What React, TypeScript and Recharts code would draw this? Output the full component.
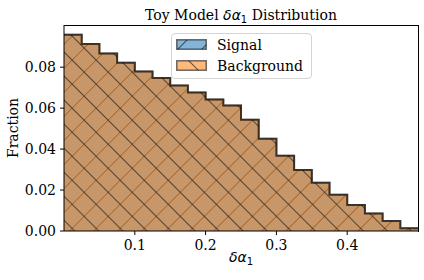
import React from 'react';
import { ComposedChart, Area, XAxis, YAxis } from 'recharts';

// bin edges of the histogram (20 bins of width 0.025)
const BIN_EDGES = [0, 0.025, 0.05, 0.075, 0.1, 0.125, 0.15, 0.175, 0.2, 0.225, 0.25, 0.275, 0.3, 0.325, 0.35, 0.375, 0.4, 0.425, 0.45, 0.475, 0.5];

const SIGNAL = [0.0958, 0.0913, 0.0867, 0.0822, 0.0779, 0.0747, 0.0711, 0.0676, 0.0642, 0.0613, 0.0543, 0.045, 0.0367, 0.0298, 0.0236, 0.0177, 0.0127, 0.0085, 0.0049, 0.0014];
const BACKGROUND = [0.0958, 0.0913, 0.0867, 0.0822, 0.0779, 0.0747, 0.0711, 0.0676, 0.0642, 0.0613, 0.0543, 0.045, 0.0367, 0.0298, 0.0236, 0.0177, 0.0127, 0.0085, 0.0049, 0.0014];

const X_TICKS = [0.1, 0.2, 0.3, 0.4];
const Y_TICKS = [0, 0.02, 0.04, 0.06, 0.08];

const BLUE = '#1f77b4';
const ORANGE = '#ff7f0e';
const ALPHA = 0.55;
const HATCH = 17;
const SERIF = "'DejaVu Serif', serif";
const MATH = "'DejaVu Sans', sans-serif";

// stepAfter needs the closing edge, so the last bin value is repeated at x = 0.5
const data = BIN_EDGES.map((x, i) => ({
  x,
  signal: SIGNAL[Math.min(i, SIGNAL.length - 1)],
  background: BACKGROUND[Math.min(i, BACKGROUND.length - 1)],
}));

const HatchPattern = ({ id, color, angle }: { id: string; color: string; angle: number }) => (
  <pattern id={id} patternUnits="userSpaceOnUse" width={HATCH} height={HATCH} patternTransform={`rotate(${angle})`}>
    <rect width={HATCH} height={HATCH} fill={color} fillOpacity={ALPHA} />
    <line x1={HATCH / 2} y1={0} x2={HATCH / 2} y2={HATCH} stroke="#000" strokeOpacity={ALPHA} strokeWidth={1} />
  </pattern>
);

const LegendPatch = ({ id, color, angle }: { id: string; color: string; angle: number }) => (
  <svg width={31} height={11} style={{ display: 'block' }}>
    <defs>
      <HatchPattern id={id} color={color} angle={angle} />
    </defs>
    <rect x={0.75} y={0.75} width={29.5} height={9.5} fill={`url(#${id})`} stroke="#000" strokeOpacity={ALPHA} strokeWidth={1.5} />
  </svg>
);

const XTick = (props: any) => {
  const { x, y, payload } = props;
  return (
    <text x={x} y={y} dy="0.71em" textAnchor="middle" fontFamily={SERIF} fontSize={14} fill="#000">
      {Number(payload.value).toFixed(1)}
    </text>
  );
};

const YTick = (props: any) => {
  const { x, y, payload } = props;
  return (
    <text x={x} y={y} dy="0.355em" textAnchor="end" fontFamily={SERIF} fontSize={14} fill="#000">
      {Number(payload.value).toFixed(2)}
    </text>
  );
};

export default function App() {
  return (
    <div style={{ position: 'absolute', left: 0, top: 0, width: 424, height: 280, background: '#fff' }}>
      <ComposedChart width={424} height={280} data={data} margin={{ top: 25, right: 6, bottom: 0, left: 0 }}>
        <defs>
          <HatchPattern id="hatchSignal" color={BLUE} angle={45} />
          <HatchPattern id="hatchBackground" color={ORANGE} angle={-45} />
        </defs>
        <XAxis
          dataKey="x"
          type="number"
          domain={[0, 0.5]}
          ticks={X_TICKS}
          height={49}
          tickSize={4}
          tickMargin={5}
          tick={<XTick />}
          axisLine={{ stroke: '#000' }}
          tickLine={{ stroke: '#000' }}
          allowDataOverflow
        />
        <YAxis
          type="number"
          domain={[0, 0.1006]}
          ticks={Y_TICKS}
          width={64}
          tickSize={4}
          tickMargin={4}
          tick={<YTick />}
          axisLine={{ stroke: '#000' }}
          tickLine={{ stroke: '#000' }}
          allowDataOverflow
        />
        <Area
          dataKey="signal"
          type="stepAfter"
          fill="url(#hatchSignal)"
          fillOpacity={1}
          stroke="#000"
          strokeOpacity={ALPHA}
          strokeWidth={2}
          dot={false}
          activeDot={false}
          isAnimationActive={false}
        />
        <Area
          dataKey="background"
          type="stepAfter"
          fill="url(#hatchBackground)"
          fillOpacity={1}
          stroke="#000"
          strokeOpacity={ALPHA}
          strokeWidth={2}
          dot={false}
          activeDot={false}
          isAnimationActive={false}
        />
      </ComposedChart>

      {/* top and right spines */}
      <div style={{ position: 'absolute', left: 64, top: 24.5, width: 354, height: 206, borderTop: '1px solid #000', borderRight: '1px solid #000', pointerEvents: 'none' }} />

      <div style={{ position: 'absolute', left: 64, width: 354, top: 7, textAlign: 'center', fontFamily: SERIF, fontSize: 14, lineHeight: '16px', color: '#000', whiteSpace: 'nowrap' }}>
        Toy Model <span style={{ fontFamily: MATH, fontStyle: 'italic' }}>δα</span>
        <span style={{ fontFamily: MATH, fontSize: 10, position: 'relative', top: 3 }}>1</span> Distribution
      </div>

      <div style={{ position: 'absolute', left: 64, width: 354, top: 249, textAlign: 'center', fontFamily: MATH, fontSize: 14, lineHeight: '16px', color: '#000' }}>
        <span style={{ fontStyle: 'italic' }}>δα</span>
        <span style={{ fontSize: 10, position: 'relative', top: 3 }}>1</span>
      </div>

      <div style={{ position: 'absolute', left: 13, top: 128, transform: 'translate(-50%, -50%) rotate(-90deg)', fontFamily: SERIF, fontSize: 14, lineHeight: '16px', color: '#000', whiteSpace: 'nowrap' }}>
        Fraction
      </div>

      <div style={{ position: 'absolute', left: 171, top: 33, width: 139, height: 44, border: '1px solid #d4d4d4', borderRadius: 4, background: 'rgba(255,255,255,0.8)', fontFamily: SERIF, fontSize: 14, color: '#000' }}>
        <div style={{ position: 'absolute', left: 4, top: 5 }}>
          <LegendPatch id="legSignal" color={BLUE} angle={45} />
        </div>
        <div style={{ position: 'absolute', left: 45, top: 3, lineHeight: '16px' }}>Signal</div>
        <div style={{ position: 'absolute', left: 4, top: 26 }}>
          <LegendPatch id="legBackground" color={ORANGE} angle={-45} />
        </div>
        <div style={{ position: 'absolute', left: 45, top: 24, lineHeight: '16px' }}>Background</div>
      </div>
    </div>
  );
}
